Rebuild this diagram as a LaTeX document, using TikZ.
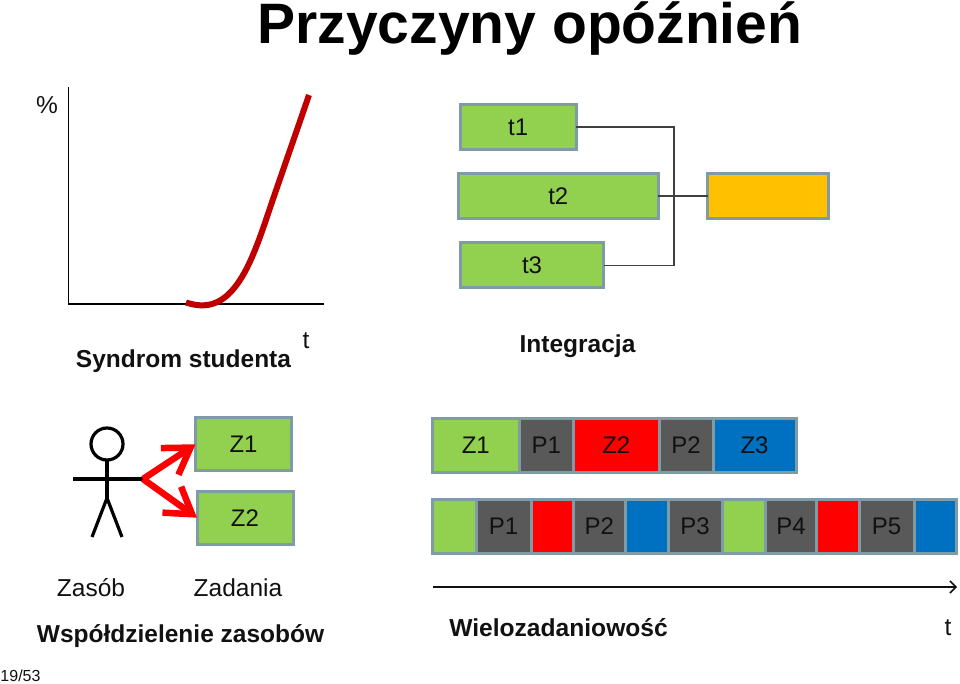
\documentclass[tikz,border=0pt]{standalone}
\usepackage{fontspec}
\setmainfont{Liberation Sans}
\usetikzlibrary{positioning}
\usetikzlibrary{arrows.meta}

\tikzset{
    block/.style={draw=boxedge, line width=3pt, inner sep=0pt, outer sep=0pt, text=textdark, font=\fontsize{24}{24}\selectfont},
    task/.style={block, fill=taskgreen, minimum height=#1},
    task/.default=45pt,
    slot/.style={block, minimum height=54pt, minimum width=#1},
    label/.style={inner sep=0pt, text=textdark, font=\fontsize{24.5}{24.5}\selectfont},
    boldlabel/.style={label, font=\fontsize{24.5}{24.5}\selectfont\bfseries},
    link/.style={draw=linegray, line width=1.2pt},
    axis/.style={draw=black, line width=1pt},
    stick/.style={draw=black, line width=3.2pt},
    redarrow/.style={draw=red, line width=6.5pt, -{Straight Barb[length=25pt, width=32pt]}},
}
\definecolor{taskgreen}{HTML}{92D050}
\definecolor{taskorange}{HTML}{FFC000}
\definecolor{taskred}{HTML}{FF0000}
\definecolor{taskblue}{HTML}{0070C0}
\definecolor{pausegray}{HTML}{595959}
\definecolor{boxedge}{HTML}{7F9CA6}
\definecolor{linegray}{HTML}{404040}
\definecolor{curvered}{HTML}{C00000}
\definecolor{textdark}{HTML}{111111}

\begin{document}
\begin{tikzpicture}[x=1pt, y=-1pt]
    \useasboundingbox (0,0) rectangle (960,684);

    \node [inner sep=0pt, text=black, font=\fontsize{57}{57}\selectfont\bfseries] (title) at (530,28.5) {Przyczyny opóźnień};

    % syndrom studenta
    \coordinate (top) at (68,87);
    \coordinate (origin) at (68,304);
    \coordinate (right) at (324,304);
    \draw[axis] (top) -- (origin) -- (right);
    \draw[draw=curvered, line width=6pt] (186,302.5) .. controls (203,308) and (222,308) .. (240,280)
        .. controls (252,262) and (262,232) .. (271,205)
        .. controls (283,170) and (297,130) .. (309,95);
    \node [label] (percent) at (47,105) {\%};
    \node [label] (taxis) at (306,340.5) {t};
    \node [boldlabel] (syndrom) at (183.5,361.5) {Syndrom studenta};

    % integracja
    \node [task, minimum width=116pt] (t1) at (518.2,127) {t1};
    \node [task, minimum width=199.5pt] (t2) at (558.3,196) {t2};
    \node [task, minimum width=143.5pt] (t3) at (532,265.5) {t3};
    \node [task, fill=taskorange, minimum width=120.8pt] (result) at (768.3,196) {};
    \coordinate (joint) at (674,196);
    \draw[link] (t1.east) -| (joint);
    \draw[link] (t3.east) -| (joint);
    \draw[link] (t2.east) -- (result.west);
    \node [boldlabel] (integracja) at (577.5,346) {Integracja};

    % zasoby
    \node [draw=black, line width=3.2pt, circle, minimum size=32pt, inner sep=0pt, outer sep=0pt] (head) at (107,444) {};
    \coordinate (hip) at (107,498);
    \coordinate (handl) at (73,479);
    \coordinate (handr) at (143,479);
    \coordinate (footl) at (92,537);
    \coordinate (footr) at (122,537);
    \draw[stick] (head.south) -- (hip);
    \draw[stick] (handl) -- (handr);
    \draw[stick] (footl) -- (hip) -- (footr);
    \node [task=53pt, minimum width=96pt] (z1) at (243.5,444.3) {Z1};
    \node [task=53pt, minimum width=96pt, below=20.4pt of z1, xshift=1.5pt] (z2) {Z2};
    \draw[redarrow] (handr) -- (z1.west);
    \draw[redarrow] (handr) -- (z2.west);
    \node [label] (zasob) at (91,588) {Zasób};
    \node [label] (zadania) at (238,588) {Zadania};
    \node [boldlabel] (zasoby) at (180.5,636.5) {Współdzielenie zasobów};

    % wielozadaniowosc
    \node [slot=86.5pt, fill=taskgreen] (a1) at (475.75,445) {Z1};
    \node [slot=54.5pt, fill=pausegray, right=0pt of a1] (a2) {P1};
    \node [slot=85.5pt, fill=taskred, right=0pt of a2] (a3) {Z2};
    \node [slot=54pt, fill=pausegray, right=0pt of a3] (a4) {P2};
    \node [slot=83pt, fill=taskblue, right=0pt of a4] (a5) {Z3};

    \node [slot=43.5pt, fill=taskgreen] (b1) at (454.25,526.5) {};
    \node [slot=55pt, fill=pausegray, right=0pt of b1] (b2) {P1};
    \node [slot=42.5pt, fill=taskred, right=0pt of b2] (b3) {};
    \node [slot=51.5pt, fill=pausegray, right=0pt of b3] (b4) {P2};
    \node [slot=43pt, fill=taskblue, right=0pt of b4] (b5) {};
    \node [slot=54pt, fill=pausegray, right=0pt of b5] (b6) {P3};
    \node [slot=43.6pt, fill=taskgreen, right=0pt of b6] (b7) {};
    \node [slot=50.9pt, fill=pausegray, right=0pt of b7] (b8) {P4};
    \node [slot=42.5pt, fill=taskred, right=0pt of b8] (b9) {};
    \node [slot=55pt, fill=pausegray, right=0pt of b9] (b10) {P5};
    \node [slot=42.7pt, fill=taskblue, right=0pt of b10] (b11) {};

    \coordinate (tstart) at (433,587);
    \coordinate (tend) at (957,587);
    \draw[draw=textdark, line width=1.5pt, -{Straight Barb[length=6pt, width=12pt]}] (tstart) -- (tend);
    \node [label, font=\fontsize{24.6}{24.6}\selectfont\bfseries] (wielo) at (558.5,627.5) {Wielozadaniowość};
    \node [label] (tlabel) at (948,628) {t};

    \node [inner sep=0pt, text=textdark, font=\fontsize{16}{16}\selectfont] (page) at (20.5,676) {19/53};
\end{tikzpicture}
\end{document}
